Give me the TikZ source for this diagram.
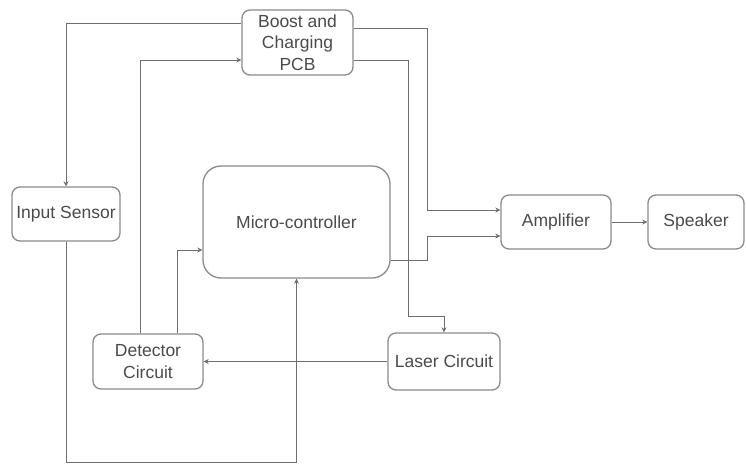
\documentclass[tikz,border=0pt]{standalone}
\usepackage{fontspec}
\setmainfont{Liberation Sans}
\usetikzlibrary{arrows.meta}

\definecolor{boxgray}{HTML}{8A8A8A}
\definecolor{linegray}{HTML}{6E6E6E}
\definecolor{txtgray}{HTML}{4A4A4A}

\begin{document}
\begin{tikzpicture}[x=1pt,y=-1pt,
  blk/.style={draw=boxgray,line width=1.3pt,rounded corners=8pt,align=center,
    text=txtgray,font=\fontsize{17.5}{21.5}\selectfont,inner sep=0pt},
  wire/.style={draw=linegray,line width=1pt},
  arr/.style={wire,-{Stealth[length=5pt,width=5pt]}}]
\useasboundingbox (0,0) rectangle (746,463);

\node[blk,minimum width=111pt,minimum height=65pt] (boost) at (297.5,42.5){Boost and\\Charging\\PCB};
\node[blk,minimum width=108pt,minimum height=54pt] (input) at (66,214){Input Sensor};
\node[blk,minimum width=187pt,minimum height=112pt,rounded corners=18pt] (mcu) at (296.5,222){Micro-controller};
\node[blk,minimum width=110pt,minimum height=54pt] (amp) at (556,222){Amplifier};
\node[blk,minimum width=96pt,minimum height=54pt] (spk) at (696,222){Speaker};
\node[blk,minimum width=110pt,minimum height=55pt] (det) at (148,361.5){Detector\\Circuit};
\node[blk,minimum width=112pt,minimum height=57pt] (laser) at (444,361.5){Laser Circuit};

% power lines from the PCB
\draw[arr] (boost.west |- 0,23) -| (input.north);
\draw[arr] (det.north -| 140,0) |- (boost.west |- 0,60);
\draw[arr] (boost.east |- 0,28) -| (427,210) -- (amp.west |- 0,210);
\draw[arr] (boost.east |- 0,60) -| (408,316) -| (laser.north);

% signal lines
\draw[arr] (mcu.east |- 0,260) -| (427,236) -- (amp.west |- 0,236);
\draw[arr] (amp.east) -- (spk.west);
\draw[arr] (laser.west) -- (det.east);
\draw[arr] (det.north -| 177,0) |- (mcu.west |- 0,250);
\draw[arr] (input.south) -- (66,462) -| (mcu.south);
\end{tikzpicture}
\end{document}
